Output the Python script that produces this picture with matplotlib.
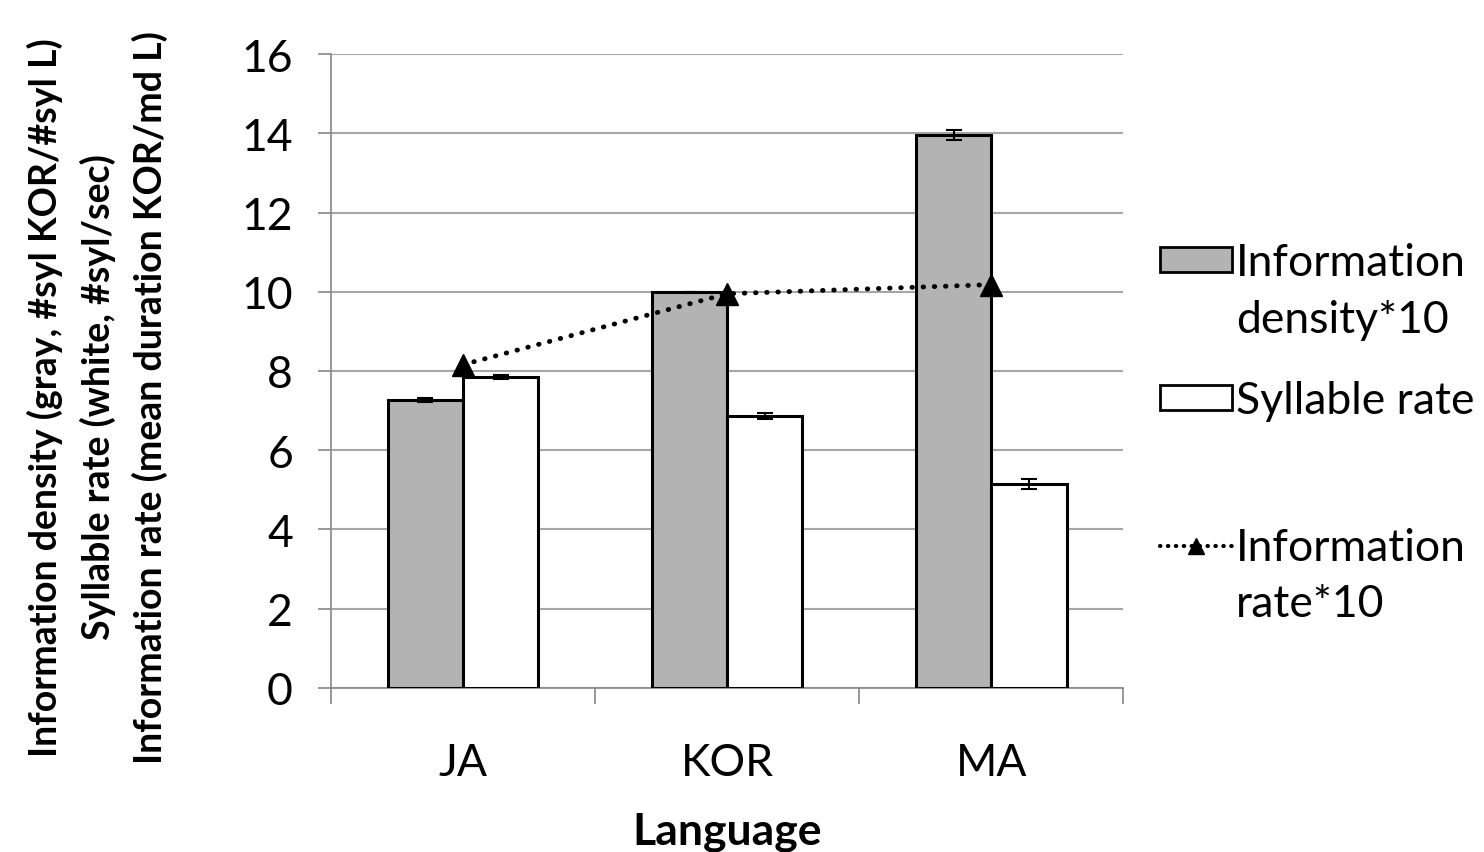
import numpy as np
import matplotlib.pyplot as plt
from matplotlib.patches import Patch
from matplotlib.lines import Line2D

# Data
languages = ['JA', 'KOR', 'MA']
info_density = [7.27, 10.0, 13.96]      # gray bars (information density * 10)
info_density_err = [0.05, 0.0, 0.13]
syllable_rate = [7.85, 6.87, 5.15]      # white bars
syllable_rate_err = [0.05, 0.08, 0.13]
info_rate = [8.16, 9.95, 10.18]         # dotted line (information rate * 10)

plt.rcParams['font.family'] = ['Lato', 'DejaVu Sans']

fig = plt.figure(figsize=(14.84, 8.53), dpi=100)
ax = fig.add_axes([0.223, 0.1923, 0.534, 0.7432])

x = np.arange(len(languages))
w = 0.285
dotted = (0, (0.1, 2.2))

ax.bar(x - w / 2, info_density, w, color='#b3b3b3', edgecolor='black', linewidth=2.2, zorder=3,
       yerr=info_density_err, error_kw=dict(ecolor='black', elinewidth=1.5, capsize=6, capthick=1.5, zorder=4))
ax.bar(x + w / 2, syllable_rate, w, color='white', edgecolor='black', linewidth=2.2, zorder=3,
       yerr=syllable_rate_err, error_kw=dict(ecolor='black', elinewidth=1.5, capsize=6, capthick=1.5, zorder=4))
ax.plot(x, info_rate, color='black', linestyle=dotted, linewidth=3.5, dash_capstyle='round',
        marker='^', markersize=16, zorder=5)

ax.set_xlim(-0.5, 2.5)
ax.set_ylim(0, 16)
ax.set_yticks(range(0, 17, 2))
ax.set_xticks(x)
ax.set_xticklabels(languages)
ax.set_xticks([-0.5, 0.5, 1.5, 2.5], minor=True)
ax.tick_params(axis='x', which='major', length=0, labelsize=32, pad=39)
ax.tick_params(axis='x', which='minor', length=11.5, color='#888888', width=1.2)
ax.tick_params(axis='y', length=9.4, color='#888888', width=1.2, labelsize=32, pad=18)

ax.grid(axis='y', color='#a6a6a6', linewidth=1.5, zorder=0)
ax.set_axisbelow(True)
for s in ['top', 'right']:
    ax.spines[s].set_visible(False)
for s in ['left', 'bottom']:
    ax.spines[s].set_color('#888888')
    ax.spines[s].set_linewidth(1.2)

ax.set_xlabel('Language', fontsize=32, fontweight='bold', labelpad=20)
ax.set_ylabel('Information density (gray, #syl KOR/#syl L)\nSyllable rate (white, #syl/sec)\n'
              'Information rate (mean duration KOR/md L)',
              fontsize=27, fontweight='bold', linespacing=1.55)
ax.yaxis.set_label_coords(-0.205, 0.46)

# legend: three blocks placed separately, handle next to the first text line
blank = Patch(facecolor='none', edgecolor='none')
leg_kw = dict(loc='center left', frameon=False, fontsize=32, handlelength=1.6, handleheight=0.5,
              handletextpad=0.1, labelspacing=0.35, borderpad=0, borderaxespad=0)
leg1 = fig.legend([Patch(facecolor='#b3b3b3', edgecolor='black', linewidth=2), blank],
                  ['Information', 'density*10'], bbox_to_anchor=(0.782, 0.658), **leg_kw)
leg2 = fig.legend([Patch(facecolor='white', edgecolor='black', linewidth=2)],
                  ['Syllable rate'], bbox_to_anchor=(0.782, 0.529), **leg_kw)
leg3 = fig.legend([Line2D([0], [0], color='black', linestyle=(0, (0.1, 1.8)), linewidth=3,
                          dash_capstyle='round', marker='^', markersize=12), blank],
                  ['Information', 'rate*10'], bbox_to_anchor=(0.782, 0.324), **leg_kw)

fig.savefig('out.png', dpi=100)
